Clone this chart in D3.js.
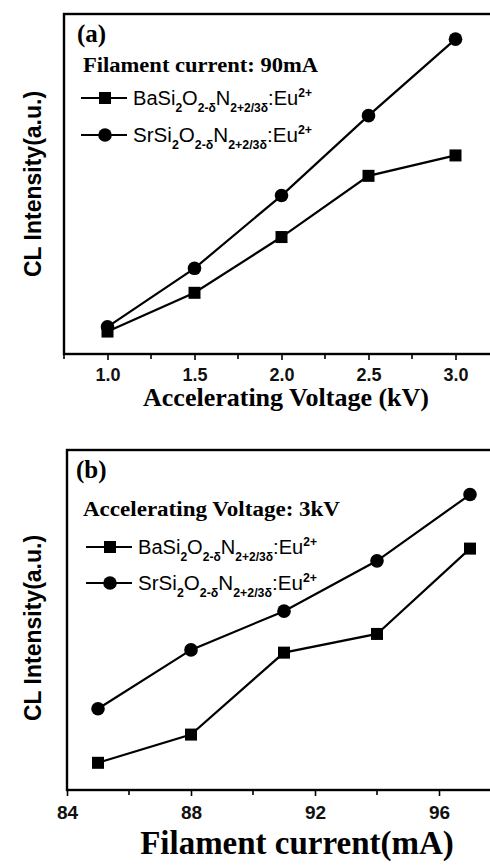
<!DOCTYPE html>
<html>
<head>
<meta charset="utf-8">
<script src="https://cdn.jsdelivr.net/npm/d3@7"></script>
<style>
  html, body { margin: 0; padding: 0; background: #fff; overflow: hidden; }
  svg { display: block; }
</style>
</head>
<body>
<svg id="chart" width="490" height="868"></svg>
<script>
// Panel (a): CL intensity vs accelerating voltage, filament current 90 mA
const voltageKV = [1.0, 1.5, 2.0, 2.5, 3.0];
const baVsVoltage = [6.6, 18.0, 34.4, 52.4, 58.4];
const srVsVoltage = [8.0, 25.2, 46.6, 70.1, 92.6];
const voltageTicks = [1.0, 1.5, 2.0, 2.5, 3.0];
const voltageMinorTicks = [0.75, 1.25, 1.75, 2.25, 2.75];

// Panel (b): CL intensity vs filament current, accelerating voltage 3 kV
const currentMA = [85, 88, 91, 94, 97];
const baVsCurrent = [8.0, 16.3, 40.4, 45.9, 71.0];
const srVsCurrent = [23.9, 41.2, 52.6, 67.4, 86.9];
const currentTicks = [84, 88, 92, 96];
const currentMinorTicks = [86, 90, 94];

const svg = d3.select("#chart");
const SANS = "'Liberation Sans', Arial, sans-serif";
const SERIF = "'Liberation Serif', 'Times New Roman', serif";

const legendRows = [
  { name: "Ba", marker: "square" },
  { name: "Sr", marker: "circle" }
];

function drawMarker(g, type, cx, cy) {
  if (type === "square") {
    g.append("rect")
      .attr("x", cx - 6).attr("y", cy - 6)
      .attr("width", 12).attr("height", 12)
      .attr("fill", "#000");
  } else {
    g.append("circle")
      .attr("cx", cx).attr("cy", cy).attr("r", 6.8)
      .attr("fill", "#000");
  }
}

// formula label with sub- and superscripts
function formulaText(g, x, y, el) {
  const t = g.append("text")
    .attr("x", x).attr("y", y)
    .style("font-family", SANS)
    .style("font-size", "20px")
    .attr("fill", "#000")
    .attr("textLength", 179)
    .attr("lengthAdjust", "spacingAndGlyphs");
  const parts = [
    [el + "Si", 0, 20],
    ["2", 7, 12],
    ["O", -7, 20],
    ["2-δ", 7, 12],
    ["N", -7, 20],
    ["2+2/3δ", 7, 12],
    [":Eu", -7, 20],
    ["2+", -8, 12]
  ];
  parts.forEach(([s, dy, fs]) => {
    t.append("tspan").attr("dy", dy)
      .style("font-size", fs + "px")
      .style("font-weight", fs < 15 ? "bold" : "normal")
      .text(s);
  });
}

function drawPanel(cfg) {
  const g = svg.append("g");
  const x = d3.scaleLinear().domain(cfg.xDomain).range([cfg.left, cfg.right]);
  const y = d3.scaleLinear().domain([0, 100]).range([cfg.bottom, cfg.top]);

  // frame
  g.append("rect")
    .attr("x", cfg.left).attr("y", cfg.top)
    .attr("width", cfg.right - cfg.left).attr("height", cfg.bottom - cfg.top)
    .attr("fill", "none").attr("stroke", "#000").attr("stroke-width", 2.4);

  // major ticks with labels
  const axis = d3.axisBottom(x)
    .tickValues(cfg.ticks)
    .tickFormat(cfg.fmt)
    .tickSize(6)
    .tickSizeOuter(0)
    .tickPadding(cfg.tickPad);
  const ax = g.append("g")
    .attr("transform", `translate(0,${cfg.bottom})`)
    .call(axis);
  ax.select(".domain").remove();
  ax.selectAll(".tick line").attr("stroke", "#000").attr("stroke-width", 1.6);
  ax.selectAll(".tick text")
    .style("font-family", SANS)
    .style("font-weight", "bold")
    .style("font-size", cfg.tickFont + "px")
    .attr("fill", "#111");

  // minor ticks (no labels)
  const mx = g.append("g")
    .attr("transform", `translate(0,${cfg.bottom})`);
  mx.selectAll("line")
    .data(cfg.minorTicks)
    .join("line")
    .attr("x1", d => x(d)).attr("x2", d => x(d))
    .attr("y1", 0).attr("y2", 5)
    .attr("stroke", "#000").attr("stroke-width", 1.6);

  // axis titles
  g.append("text")
    .attr("transform", `translate(${cfg.yLabelX},${(cfg.top + cfg.bottom) / 2 + cfg.yLabelShift}) rotate(-90)`)
    .attr("text-anchor", "middle")
    .style("font-family", SANS)
    .style("font-weight", "bold")
    .style("font-size", "23px")
    .attr("fill", "#000")
    .text("CL Intensity(a.u.)");

  g.append("text")
    .attr("x", cfg.xTitleX).attr("y", cfg.xTitleY)
    .attr("text-anchor", "middle")
    .style("font-family", SERIF)
    .style("font-weight", "bold")
    .style("font-size", cfg.xTitleSize + "px")
    .attr("fill", "#000")
    .text(cfg.xTitle);

  // panel tag and condition
  g.append("text")
    .attr("x", cfg.tagX).attr("y", cfg.tagY)
    .style("font-family", SERIF)
    .style("font-weight", "bold")
    .style("font-size", "25px")
    .text(cfg.tag);

  g.append("text")
    .attr("x", cfg.condX).attr("y", cfg.condY)
    .style("font-family", SERIF)
    .style("font-weight", "bold")
    .style("font-size", "20px")
    .attr("textLength", cfg.condLen)
    .attr("lengthAdjust", "spacingAndGlyphs")
    .text(cfg.cond);

  // series
  const line = d3.line().x(d => x(d[0])).y(d => y(d[1]));
  cfg.series.forEach(s => {
    const pts = cfg.xs.map((v, i) => [v, s.values[i]]);
    g.append("path").datum(pts)
      .attr("d", line)
      .attr("fill", "none").attr("stroke", "#000").attr("stroke-width", 2.2);
    pts.forEach(p => drawMarker(g, s.marker, x(p[0]), y(p[1])));
  });

  // legend
  legendRows.forEach((r, i) => {
    const ly = cfg.legY + i * cfg.legStep;
    g.append("line")
      .attr("x1", cfg.legX).attr("x2", cfg.legX + 46)
      .attr("y1", ly).attr("y2", ly)
      .attr("stroke", "#000").attr("stroke-width", 2.2);
    drawMarker(g, r.marker, cfg.legX + 24, ly);
    formulaText(g, cfg.legX + 52, ly + 7, r.name);
  });
}

drawPanel({
  xDomain: [0.75, 3.25], left: 64, right: 499, top: 14, bottom: 354,
  ticks: voltageTicks, minorTicks: voltageMinorTicks, fmt: d3.format(".1f"),
  tickPad: 8, tickFont: 18,
  xs: voltageKV,
  series: [
    { values: baVsVoltage, marker: "square" },
    { values: srVsVoltage, marker: "circle" }
  ],
  yLabelX: 41, yLabelShift: 0,
  xTitle: "Accelerating Voltage (kV)", xTitleX: 286, xTitleY: 406, xTitleSize: 26,
  tag: "(a)", tagX: 77, tagY: 42,
  cond: "Filament current: 90mA", condX: 83, condY: 72, condLen: 235,
  legX: 81, legY: 98, legStep: 37
});

drawPanel({
  xDomain: [84, 98], left: 67, right: 501, top: 450, bottom: 790,
  ticks: currentTicks, minorTicks: currentMinorTicks, fmt: d3.format("d"),
  tickPad: 10, tickFont: 19,
  xs: currentMA,
  series: [
    { values: baVsCurrent, marker: "square" },
    { values: srVsCurrent, marker: "circle" }
  ],
  yLabelX: 41, yLabelShift: 8,
  xTitle: "Filament current(mA)", xTitleX: 297, xTitleY: 854, xTitleSize: 33,
  tag: "(b)", tagX: 76, tagY: 478,
  cond: "Accelerating Voltage: 3kV", condX: 83, condY: 516, condLen: 257,
  legX: 86, legY: 547, legStep: 36
});
</script>
</body>
</html>
